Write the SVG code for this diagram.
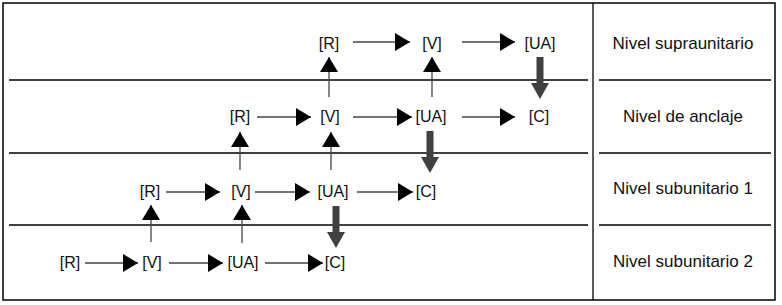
<svg xmlns="http://www.w3.org/2000/svg" xmlns:xlink="http://www.w3.org/1999/xlink" width="782" height="305" viewBox="0 0 782 305">
<style>
.frame{fill:none;stroke:#000;stroke-width:1.5}
.sep{stroke:#000;stroke-width:1.3}
.n{font-family:"Liberation Sans",Arial,sans-serif;font-size:16px;fill:#111;text-anchor:middle}
.lbl{font-family:"Liberation Sans",Arial,sans-serif;font-size:17px;fill:#111;text-anchor:middle}
.a{stroke:#444;stroke-width:1.3;fill:none;marker-end:url(#ah)}
.thick{fill:#404040}
</style>
<defs>
<marker id="ah" viewBox="0 0 15 18" refX="15" refY="9" markerWidth="15" markerHeight="18" markerUnits="userSpaceOnUse" orient="auto">
<path d="M0,0 L15,9 L0,18 Z" fill="#000"/>
</marker>
<path id="down" d="M-3.5,0 H3.5 V26 H9 L0,42 L-9,26 H-3.5 Z"/>
</defs>
<rect x="0" y="0" width="782" height="305" fill="#fff"/>
<g id="grid">
<rect class="frame" x="3" y="3" width="772" height="297"/>
<line class="sep" x1="593" y1="3" x2="593" y2="300"/>
<line class="sep" x1="9" y1="80" x2="588" y2="80"/>
<line class="sep" x1="9" y1="153" x2="588" y2="153"/>
<line class="sep" x1="9" y1="225" x2="588" y2="225"/>
<line class="sep" x1="599" y1="80" x2="771" y2="80"/>
<line class="sep" x1="599" y1="153" x2="771" y2="153"/>
<line class="sep" x1="599" y1="225" x2="771" y2="225"/>
</g>
<g id="labels">
<g id="lbl-supra"><text class="lbl" x="683" y="49">Nivel supraunitario</text></g>
<g id="lbl-anclaje"><text class="lbl" x="683" y="122">Nivel de anclaje</text></g>
<g id="lbl-sub1"><text class="lbl" x="683" y="194">Nivel subunitario 1</text></g>
<g id="lbl-sub2"><text class="lbl" x="683" y="267">Nivel subunitario 2</text></g>
</g>
<g id="connectors">
<line class="a" x1="353" y1="42" x2="410" y2="42"/>
<line class="a" x1="462" y1="42" x2="515" y2="42"/>
<line class="a" x1="257" y1="117" x2="311" y2="117"/>
<line class="a" x1="353" y1="117" x2="412" y2="117"/>
<line class="a" x1="462" y1="117" x2="515" y2="117"/>
<line class="a" x1="166" y1="192" x2="220" y2="192"/>
<line class="a" x1="255" y1="192" x2="310" y2="192"/>
<line class="a" x1="357" y1="192" x2="413" y2="192"/>
<line class="a" x1="85" y1="263" x2="138" y2="263"/>
<line class="a" x1="169" y1="263" x2="223" y2="263"/>
<line class="a" x1="265" y1="263" x2="323" y2="263"/>
<line class="a" x1="329" y1="97" x2="329" y2="57"/>
<line class="a" x1="432" y1="97" x2="432" y2="57"/>
<line class="a" x1="240" y1="170" x2="240" y2="132"/>
<line class="a" x1="331" y1="170" x2="331" y2="132"/>
<line class="a" x1="151" y1="242" x2="151" y2="205"/>
<line class="a" x1="242" y1="243" x2="242" y2="205"/>
<use class="thick" xlink:href="#down" x="540" y="57"/>
<use class="thick" xlink:href="#down" x="430" y="131"/>
<use class="thick" xlink:href="#down" x="336" y="206"/>
</g>
<g id="row1">
<g id="r1-R"><text class="n" x="329" y="49">[R]</text></g>
<g id="r1-V"><text class="n" x="432" y="49">[V]</text></g>
<g id="r1-UA"><text class="n" x="540" y="49">[UA]</text></g>
</g>
<g id="row2">
<g id="r2-R"><text class="n" x="240" y="122">[R]</text></g>
<g id="r2-V"><text class="n" x="330" y="122">[V]</text></g>
<g id="r2-UA"><text class="n" x="431" y="122">[UA]</text></g>
<g id="r2-C"><text class="n" x="539" y="122">[C]</text></g>
</g>
<g id="row3">
<g id="r3-R"><text class="n" x="150" y="197">[R]</text></g>
<g id="r3-V"><text class="n" x="241" y="197">[V]</text></g>
<g id="r3-UA"><text class="n" x="333" y="197">[UA]</text></g>
<g id="r3-C"><text class="n" x="426" y="197">[C]</text></g>
</g>
<g id="row4">
<g id="r4-R"><text class="n" x="70" y="268">[R]</text></g>
<g id="r4-V"><text class="n" x="152" y="268">[V]</text></g>
<g id="r4-UA"><text class="n" x="243" y="268">[UA]</text></g>
<g id="r4-C"><text class="n" x="335" y="268">[C]</text></g>
</g>
</svg>
